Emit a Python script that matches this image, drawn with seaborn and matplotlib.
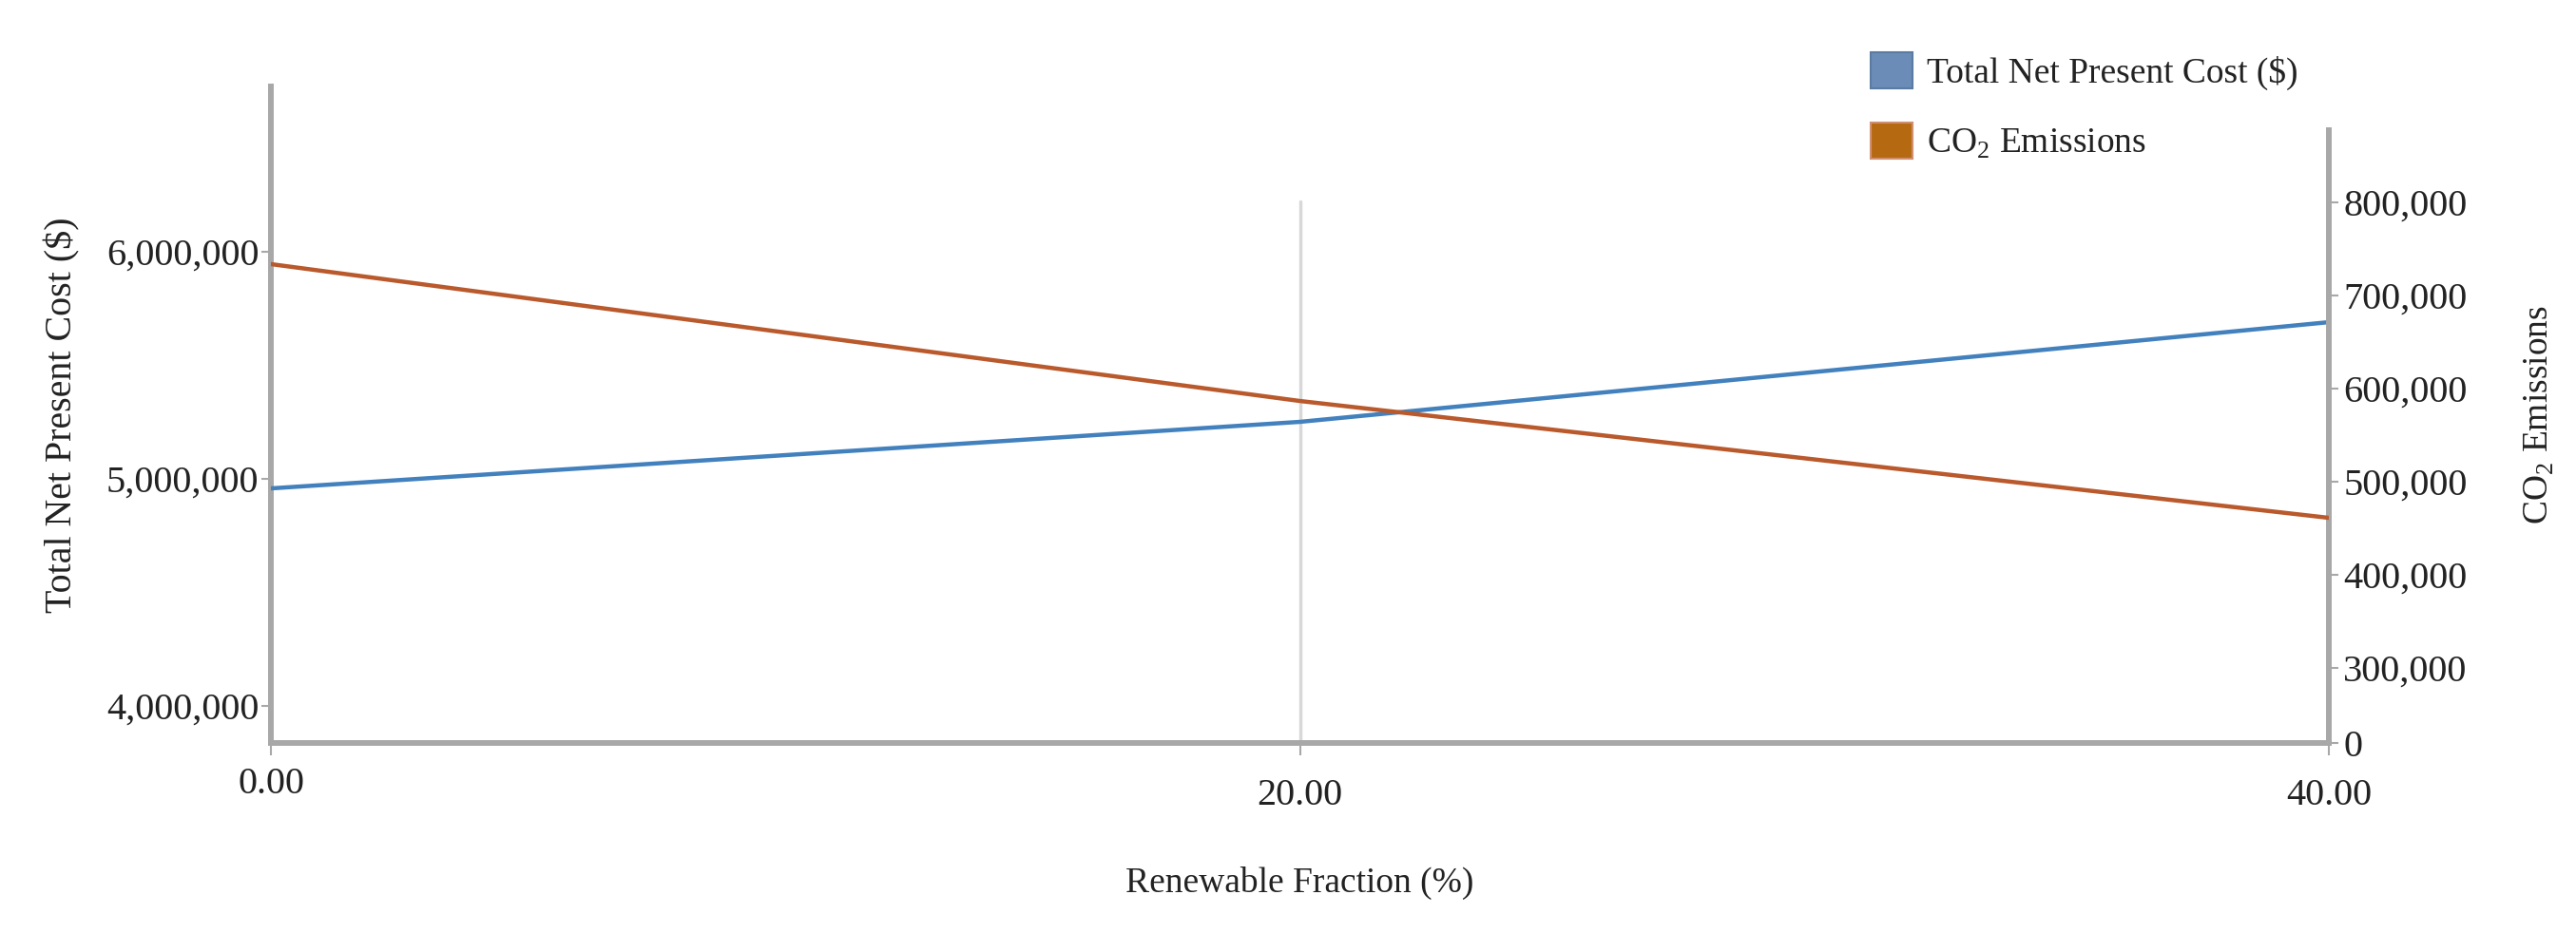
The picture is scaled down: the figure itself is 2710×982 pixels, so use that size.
import matplotlib

matplotlib.use("Agg")
import matplotlib.pyplot as plt
import pandas as pd
import seaborn as sns
from matplotlib.patches import Patch

# values
renewable_fraction = [0, 20, 40]
npc_values = [4.958e6, 5.251e6, 5.690e6]
co2_values = [733700, 586700, 461200]
x_ticks = [0, 20, 40]
x_tick_labels = ["0.00", "20.00", "40.00"]
npc_ticks = [4e6, 5e6, 6e6]
npc_tick_labels = ["4,000,000", "5,000,000", "6,000,000"]
co2_ticks = [300000, 400000, 500000, 600000, 700000, 800000]
co2_tick_labels = ["300,000", "400,000", "500,000", "600,000", "700,000", "800,000"]

BLUE_LINE = "#4281bd"
ORANGE_LINE = "#b9592c"
BLUE_PATCH = "#6a8cb6"
ORANGE_PATCH = "#b56a12"
AXIS_GRAY = "#a8a8a8"
TEXT = "#222222"

sns.set_style("white")
plt.rcParams["font.family"] = ["Liberation Serif", "DejaVu Serif"]
plt.rcParams["mathtext.fontset"] = "custom"
plt.rcParams["mathtext.rm"] = "Liberation Serif"

df = pd.DataFrame({"rf": renewable_fraction, "npc": npc_values, "co2": co2_values})

fig = plt.figure(figsize=(27.1, 9.82), dpi=100)
ax = fig.add_axes([0.10517, 0.20367, 0.79889, 0.70366])
ax2 = ax.twinx()

sns.lineplot(data=df, x="rf", y="npc", ax=ax, color=BLUE_LINE, lw=3.2, zorder=3)
sns.lineplot(data=df, x="rf", y="co2", ax=ax2, color=ORANGE_LINE, lw=3.2, zorder=3)

npc_lim = (3.8368e6, 6.728e6)
co2_lim = (219400, 924500)
ax.set_xlim(0, 40)
ax.set_ylim(*npc_lim)
ax2.set_ylim(*co2_lim)

# light vertical guide at 20 %
ax.axvline(20, ymin=0, ymax=(782 - 212) / (782 - 91), color="#d8d8d8", lw=2.5, zorder=1)

for a in (ax, ax2):
    for s in a.spines.values():
        s.set_visible(False)
    a.grid(False)
    a.set_facecolor("none")

ax.spines["left"].set_visible(True)
ax.spines["bottom"].set_visible(True)
ax.spines["left"].set_color(AXIS_GRAY)
ax.spines["left"].set_linewidth(4.3)
ax.spines["bottom"].set_color(AXIS_GRAY)
ax.spines["bottom"].set_linewidth(4.3)
ax2.spines["right"].set_visible(True)
ax2.spines["right"].set_color(AXIS_GRAY)
ax2.spines["right"].set_linewidth(4.3)
ax2.spines["right"].set_bounds(co2_lim[0], 877600)

ax.set_xticks(x_ticks)
ax.set_xticklabels(x_tick_labels)
ax.set_yticks(npc_ticks)
ax.set_yticklabels(npc_tick_labels)
ax2.set_yticks([co2_lim[0]] + co2_ticks)
ax2.set_yticklabels(["0"] + co2_tick_labels)

ax.tick_params(axis="x", direction="out", length=9, width=1.5, color=AXIS_GRAY,
               labelsize=29, labelcolor=TEXT, pad=18, bottom=True)
ax.tick_params(axis="y", direction="out", length=7, width=1.5, color=AXIS_GRAY,
               labelsize=29, labelcolor=TEXT, pad=2, left=True)
ax2.tick_params(axis="y", direction="out", length=7, width=1.5, color=AXIS_GRAY,
                labelsize=29, labelcolor=TEXT, pad=4, right=True)
ax.xaxis.get_major_ticks()[0].set_pad(9)

ax.set_xlabel("Renewable Fraction (%)", fontsize=27, color=TEXT, labelpad=40)
ax.set_ylabel("Total Net Present Cost ($)", fontsize=28.8, color=TEXT, labelpad=20)
ax2.set_ylabel("CO$_\\mathregular{2}$ Emissions", fontsize=27, color=TEXT, labelpad=42)

handles = [
    Patch(facecolor=BLUE_PATCH, edgecolor="#5b7ba3", lw=1.5, label="Total Net Present Cost ($)"),
    Patch(facecolor=ORANGE_PATCH, edgecolor="#d09070", lw=1.5, label="CO$_\\mathregular{2}$ Emissions"),
]
fig.legend(handles=handles, loc="upper left", bbox_to_anchor=(1968 / 2710, 1 - 55 / 982),
           frameon=False, fontsize=27, handlelength=1.17, handleheight=1.2,
           handletextpad=0.4, labelspacing=0.9, borderpad=0, borderaxespad=0,
           labelcolor=TEXT)

fig.savefig("out.png", dpi=100)
plt.close(fig)
